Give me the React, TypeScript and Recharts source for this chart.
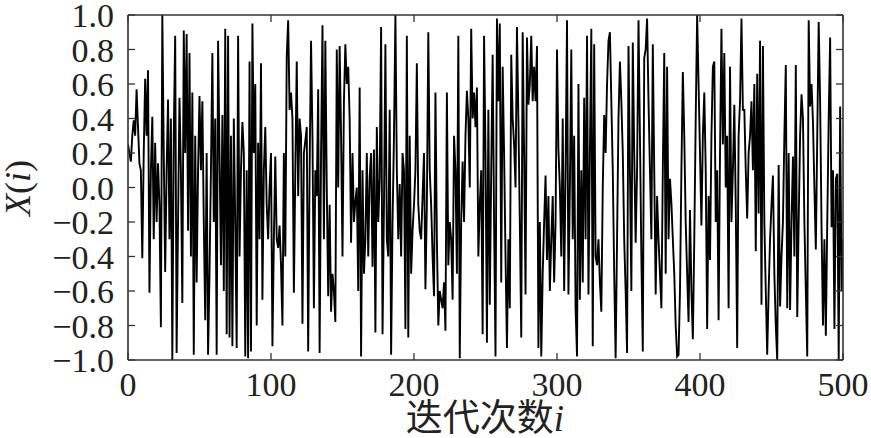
import { LineChart, Line, XAxis, YAxis, Label } from 'recharts';

// X(i) in blocks of 50 iterations
const seg0 = [
  0.25, 0.2, 0.15, 0.3, 0.39, 0.3, 0.57, 0.35, 0.14, 0.1,
  -0.41, 0.2, 0.63, 0.3, 0.68, -0.61, 0.1, 0.41, -0.3, 0.26,
  -0.2, 0.14, -0.1, -0.81, 1.0, 0.2, -0.49, 0.1, 0.51, -0.3,
  0.4, -1.0, 0.3, 0.88, -0.96, -0.2, 0.52, 0.1, -0.67, 0.91,
  0.2, 0.89, -0.25, 0.78, -0.4, 0.55, -0.97, 0.3, -0.55, 0.1,
];
const seg1 = [
  0.53, 0.1, 0.5, -0.2, -0.77, 0.2, -0.97, -0.5, 0.1, 0.78,
  -0.2, 0.4, -0.97, 0.85, 0.2, -0.45, 0.42, -0.6, 0.92, -0.85,
  0.88, -0.87, 0.3, -0.92, 0.4, -0.2, -0.93, 0.88, -0.4, 0.1,
  0.38, 0.2, -0.98, 0.1, -0.99, 0.73, -0.95, 0.95, 0.2, 0.6,
  -0.8, 0.26, -0.3, 0.72, -0.65, 0.1, 0.35, -0.1, -0.3, 0.0,
];
const seg2 = [
  0.2, -0.92, -0.3, 0.18, -0.3, -0.35, -0.22, -0.45, -0.8, 0.2,
  -0.4, 0.76, 0.97, 0.45, 0.55, 0.4, -0.61, 0.1, 0.73, -0.05,
  0.4, 0.3, -0.79, 0.2, 0.27, 0.35, -0.95, 0.1, 0.85, 0.3,
  -0.7, 0.1, -0.05, 0.57, -0.96, 0.2, 0.94, -0.3, 0.85, 0.0,
  -0.63, -0.1, -0.72, -0.5, -0.6, -0.78, 0.8, 0.0, 0.82, 0.3,
];
const seg3 = [
  -0.4, 0.5, 0.83, 0.6, 0.7, 0.4, -0.32, 0.2, -0.2, -0.08,
  0.0, -0.6, 0.58, -0.98, 0.1, -0.5, -0.3, 0.2, -0.4, 0.06,
  0.2, -0.46, 0.22, -0.84, 0.35, -0.2, 0.05, 0.93, -0.85, -0.1,
  0.83, -0.3, -0.4, 0.45, -0.97, -0.2, 0.3, 1.0, 0.1, -0.3,
  0.02, -0.4, 0.2, 0.1, -0.82, 0.88, -0.87, 0.3, -0.5, -0.25,
];
const seg4 = [
  -0.1, 0.1, 0.72, -0.1, -0.25, -0.3, -0.05, 0.2, -0.59, -0.1,
  0.9, 0.1, -0.1, -0.4, -0.63, 0.55, -0.3, -0.8, -0.6, -0.65,
  -0.7, -0.55, -0.83, 0.55, -0.45, -0.2, -0.3, -0.65, 0.3, 0.1,
  -0.5, 0.88, -0.99, -0.2, 0.15, -0.2, 0.3, 0.56, 0.4, 0.0,
  0.92, 0.4, 0.55, 0.35, 0.58, -0.4, -0.1, 0.1, -0.85, 0.88,
];
const seg5 = [
  0.2, -0.9, 0.45, -0.68, 0.1, 0.77, -0.2, -0.98, 0.98, 0.5,
  0.95, -0.55, 0.7, 0.2, -0.4, -0.93, -0.3, -0.7, 0.77, 0.4,
  0.25, 0.0, 0.93, 0.4, -0.2, -0.87, 0.9, 0.2, -0.62, 0.87,
  0.48, 0.6, 0.88, 0.5, 0.7, 0.5, 0.82, -0.93, -0.2, -0.98,
  -0.5, -0.2, 0.07, -0.42, -0.05, -0.6, -0.3, -0.05, -0.55, -0.2,
];
const seg6 = [
  0.8, 0.22, 0.0, -0.4, 0.4, -0.6, 0.1, 0.97, -0.62, 0.0,
  0.8, -0.3, 0.3, -0.7, -0.98, 0.6, -0.65, 0.1, -0.55, 0.52,
  -0.3, 0.88, -0.62, 0.2, 0.92, -0.92, 0.83, -0.4, -0.45, -0.3,
  -0.55, -0.72, 0.0, 0.42, 0.2, 0.6, 0.85, 0.9, 0.5, 0.1,
  -0.5, -0.99, -0.3, 0.4, 0.73, 0.5, 0.2, -0.3, -0.6, -0.96,
];
const seg7 = [
  0.82, 0.1, -0.6, 0.84, 0.2, -0.32, 0.1, 0.97, 0.3, -0.4,
  -0.95, 0.75, 0.8, 0.98, 0.5, 0.1, -0.3, 0.83, 0.1, -0.62,
  -0.05, -0.3, -0.5, -0.7, 0.1, 0.78, -0.5, 0.7, -0.3, 0.05,
  -0.09, -0.3, -0.5, -0.8, -0.98, -0.97, -0.6, 0.1, 0.67, 0.3,
  -0.2, -0.5, -0.78, -0.13, -0.6, -0.88, -0.3, 0.4, 1.0, 0.6,
];
const seg8 = [
  0.2, -0.22, 0.3, 0.55, 0.1, -0.82, -0.05, -0.42, 0.3, 0.7,
  0.73, -0.2, 0.1, -0.77, 0.2, 0.92, 0.25, 0.78, 0.0, 0.3,
  -0.7, 0.7, -0.2, 0.1, 0.48, -0.1, -0.93, 0.3, 0.5, 0.98,
  0.45, 0.45, 0.1, -0.18, 0.2, 0.3, 0.5, 0.1, 0.6, -0.37,
  0.66, -0.15, 0.85, -0.68, 0.82, -0.2, -0.6, -0.97, -0.6, -0.3,
];
const seg9 = [
  -0.1, 0.07, -0.5, -0.8, -1.0, 0.13, -0.69, -0.4, -0.2, 0.3,
  0.71, -0.7, 0.2, -0.71, -0.2, 0.18, -0.4, 0.71, -0.75, -0.2,
  0.3, 0.54, 0.4, -0.2, -0.6, -0.98, 0.97, 0.47, 0.6, 0.38,
  0.0, -0.36, 0.3, 0.96, 0.5, -0.23, -0.8, -0.3, -0.86, -0.2,
  0.4, 0.87, -0.23, 0.1, -0.82, 0.05, 0.08, -1.0, 0.47, -0.6, -0.3,
];

const xTicks = [0, 100, 200, 300, 400, 500];
const yTicks = [-1.0, -0.8, -0.6, -0.4, -0.2, 0.0, 0.2, 0.4, 0.6, 0.8, 1.0];

const values = [...seg0, ...seg1, ...seg2, ...seg3, ...seg4, ...seg5, ...seg6, ...seg7, ...seg8, ...seg9];
const data = values.map((v, i) => ({ i, x: v }));

const serif = '"Liberation Serif", "DejaVu Serif", serif';
const axisColor = '#333';
const fmtY = (v: number) => v.toFixed(1).replace('-', '\u2212');
const noTick = () => <g />;

export default function App() {
  return (
    <div style={{ position: 'absolute', left: 0, top: 0, background: '#fff' }}>
      <LineChart width={871} height={438} data={data} margin={{ top: 5, right: 18, bottom: 0, left: 0 }}>
        <XAxis
          xAxisId="b"
          dataKey="i"
          type="number"
          domain={[0, 500]}
          allowDataOverflow
          ticks={xTicks}
          interval={0}
          height={78}
          tickSize={-7}
          tickMargin={19}
          axisLine={{ stroke: axisColor, strokeWidth: 1.6 }}
          tickLine={{ stroke: axisColor, strokeWidth: 1.3 }}
          tick={{ fontSize: 34, fill: '#222', fontFamily: serif }}
        >
          <Label
            content={() => (
              <text x={485} y={431} textAnchor="middle" fontSize={37} fill="#222" fontFamily={serif}>
                <tspan fontFamily='"Noto Sans CJK SC", sans-serif'>迭代次数</tspan>
                <tspan fontStyle="italic">i</tspan>
              </text>
            )}
          />
        </XAxis>
        <XAxis
          xAxisId="t"
          orientation="top"
          type="number"
          domain={[0, 500]}
          allowDataOverflow
          ticks={xTicks}
          interval={0}
          height={10}
          tickSize={-7}
          axisLine={{ stroke: axisColor, strokeWidth: 1.6 }}
          tickLine={{ stroke: axisColor, strokeWidth: 1.3 }}
          tick={noTick}
        />
        <YAxis
          yAxisId="l"
          type="number"
          domain={[-1, 1]}
          allowDataOverflow
          ticks={yTicks}
          interval={0}
          width={128}
          tickSize={-7}
          tickMargin={21}
          tickFormatter={fmtY}
          axisLine={{ stroke: axisColor, strokeWidth: 1.6 }}
          tickLine={{ stroke: axisColor, strokeWidth: 1.3 }}
          tick={{ fontSize: 34, fill: '#222', fontFamily: serif }}
        >
          <Label
            content={() => (
              <text x={30} y={188} transform="rotate(-90, 30, 188)" textAnchor="middle" fontSize={36} fill="#222" fontFamily={serif}>
                <tspan fontStyle="italic">X</tspan>(<tspan fontStyle="italic">i</tspan>)
              </text>
            )}
          />
        </YAxis>
        <YAxis
          yAxisId="r"
          orientation="right"
          type="number"
          domain={[-1, 1]}
          allowDataOverflow
          ticks={yTicks}
          interval={0}
          width={10}
          tickSize={-7}
          axisLine={{ stroke: axisColor, strokeWidth: 1.6 }}
          tickLine={{ stroke: axisColor, strokeWidth: 1.3 }}
          tick={noTick}
        />
        <Line
          xAxisId="b"
          yAxisId="l"
          type="linear"
          dataKey="x"
          stroke="#000"
          strokeWidth={1.9}
          dot={false}
          isAnimationActive={false}
        />
      </LineChart>
    </div>
  );
}
